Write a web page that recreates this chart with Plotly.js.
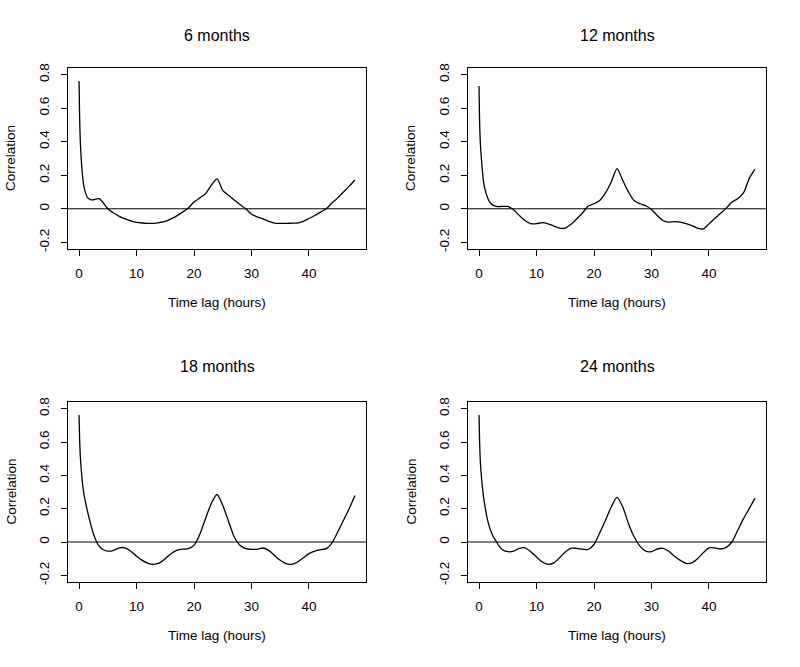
<!DOCTYPE html>
<html>
<head>
<meta charset="utf-8">
<script src="https://cdn.plot.ly/plotly-3.0.1.min.js"></script>
<style>html,body{margin:0;padding:0;background:#fff;}#chart{width:800px;height:667px;}</style>
</head>
<body>
<div id="chart"></div>
<script>
// Time lag (hours)
var lagHours = [0, 0.1, 0.25, 0.5, 0.75, 1, 1.5, 2, 2.5, 3, 3.5, 4, 5, 6, 7, 8, 9, 10, 11, 12, 13, 14, 15, 16, 17, 18, 19, 20, 21, 22, 23, 24, 25, 26, 27, 28, 29, 30, 31, 32, 33, 34, 35, 36, 37, 38, 39, 40, 41, 42, 43, 44, 45, 46, 47, 48];

var panelTitles = ["6 months", "12 months", "18 months", "24 months"];

var corr6 = [0.762, 0.55, 0.38, 0.24, 0.155, 0.11, 0.065, 0.055, 0.054, 0.058, 0.06, 0.045, 0.0, -0.025, -0.045, -0.06, -0.072, -0.081, -0.085, -0.087, -0.087, -0.082, -0.075, -0.06, -0.042, -0.02, 0.005, 0.04, 0.065, 0.09, 0.14, 0.178, 0.11, 0.08, 0.052, 0.025, 0.0, -0.033, -0.048, -0.06, -0.075, -0.085, -0.087, -0.087, -0.086, -0.085, -0.075, -0.058, -0.04, -0.02, 0.0, 0.035, 0.065, 0.1, 0.135, 0.172];

var corr12 = [0.732, 0.52, 0.38, 0.26, 0.17, 0.12, 0.065, 0.033, 0.02, 0.014, 0.013, 0.014, 0.014, -0.006, -0.04, -0.07, -0.089, -0.089, -0.083, -0.09, -0.103, -0.116, -0.115, -0.093, -0.06, -0.025, 0.016, 0.03, 0.05, 0.095, 0.16, 0.24, 0.17, 0.1, 0.048, 0.03, 0.018, -0.005, -0.04, -0.07, -0.08, -0.077, -0.08, -0.089, -0.1, -0.115, -0.12, -0.09, -0.058, -0.027, 0.004, 0.04, 0.06, 0.095, 0.18, 0.236];

var corr18 = [0.762, 0.62, 0.5, 0.39, 0.31, 0.26, 0.18, 0.11, 0.05, 0.005, -0.025, -0.042, -0.055, -0.05, -0.035, -0.035, -0.055, -0.085, -0.11, -0.128, -0.134, -0.125, -0.1, -0.07, -0.05, -0.043, -0.04, -0.02, 0.045, 0.14, 0.23, 0.285, 0.22, 0.125, 0.03, -0.02, -0.04, -0.044, -0.044, -0.036, -0.05, -0.08, -0.11, -0.13, -0.134, -0.12, -0.095, -0.07, -0.055, -0.046, -0.04, -0.005, 0.06, 0.13, 0.2, 0.279];

var corr24 = [0.762, 0.6, 0.47, 0.36, 0.28, 0.22, 0.13, 0.07, 0.03, 0.003, -0.025, -0.045, -0.058, -0.055, -0.038, -0.035, -0.058, -0.09, -0.12, -0.134, -0.125, -0.095, -0.06, -0.037, -0.038, -0.043, -0.045, -0.015, 0.055, 0.13, 0.21, 0.268, 0.21, 0.11, 0.03, -0.025, -0.055, -0.058, -0.042, -0.038, -0.055, -0.085, -0.11, -0.128, -0.125, -0.1, -0.065, -0.035, -0.035, -0.042, -0.032, 0.0, 0.07, 0.14, 0.2, 0.263];

var xTickVals = [0, 10, 20, 30, 40];
var xTickText = ["0", "10", "20", "30", "40"];
var yTickVals = [-0.2, 0, 0.2, 0.4, 0.6, 0.8];
var yTickText = ["-0.2", "0", "0.2", "0.4", "0.6", "0.8"];

var xTitle = "Time lag (hours)";
var yTitle = "Correlation";

var series = [corr6, corr12, corr18, corr24];

var FONT = "Liberation Sans, Arial, sans-serif";
var W = 800, H = 667;
// plot boxes in pixels: [left, right, top, bottom]
var boxes = [[68, 366, 68, 249], [468, 766, 68, 249], [68, 366, 402, 582], [468, 766, 402, 582]];

var traces = [];
var layout = {
  width: W, height: H,
  margin: {l: 0, r: 0, t: 0, b: 0},
  paper_bgcolor: "#fff", plot_bgcolor: "#fff",
  showlegend: false,
  font: {family: FONT, color: "#000", size: 13},
  annotations: [], shapes: []
};

for (var i = 0; i < 4; i++) {
  var n = i === 0 ? "" : String(i + 1);
  var b = boxes[i];
  traces.push({
    x: lagHours, y: series[i], type: "scatter", mode: "lines",
    xaxis: "x" + n, yaxis: "y" + n,
    line: {color: "#000", width: 1.3, shape: "spline", smoothing: 0.7},
    hoverinfo: "skip"
  });
  var axCommon = {
    showgrid: false, zeroline: false, showline: true, mirror: true,
    linecolor: "#000", linewidth: 1, ticks: "outside", ticklen: 6,
    tickwidth: 1, tickcolor: "#000", tickmode: "array",
    tickfont: {family: FONT, size: 13.5, color: "#000"}, fixedrange: true
  };
  layout["xaxis" + n] = Object.assign({}, axCommon, {
    domain: [b[0] / W, b[1] / W], range: [-1.92, 49.92],
    tickvals: xTickVals, ticktext: xTickText,
    anchor: "y" + n, ticklabelstandoff: 6
  });
  layout["yaxis" + n] = Object.assign({}, axCommon, {
    domain: [1 - b[3] / H, 1 - b[2] / H], range: [-0.24, 0.84],
    tickvals: yTickVals, ticktext: yTickText, tickangle: -90,
    anchor: "x" + n, ticklabelstandoff: 7
  });
  var cx = (b[0] + b[1]) / 2 / W;
  var rowTitleY = i < 2 ? 36 : 366.7;
  var rowXTitleY = i < 2 ? 302.7 : 635;
  layout.annotations.push({
    text: panelTitles[i], xref: "paper", yref: "paper", x: cx, y: 1 - rowTitleY / H,
    xanchor: "center", yanchor: "middle", showarrow: false,
    font: {family: FONT, size: 16, color: "#000"}
  });
  layout.annotations.push({
    text: xTitle, xref: "paper", yref: "paper", x: cx, y: 1 - rowXTitleY / H,
    xanchor: "center", yanchor: "middle", showarrow: false,
    font: {family: FONT, size: 13.5, color: "#000"}
  });
  layout.annotations.push({
    text: yTitle, xref: "paper", yref: "paper", x: (b[0] - 57.5) / W, y: 1 - (b[2] + b[3]) / 2 / H,
    xanchor: "center", yanchor: "middle", showarrow: false, textangle: -90,
    font: {family: FONT, size: 13.5, color: "#000"}
  });
  layout.shapes.push({
    type: "line", xref: "x" + n + " domain", yref: "y" + n,
    x0: 0, x1: 1, y0: 0, y1: 0, line: {color: "#000", width: 1}
  });
}

Plotly.newPlot("chart", traces, layout, {displayModeBar: false, staticPlot: true});
</script>
</body>
</html>
